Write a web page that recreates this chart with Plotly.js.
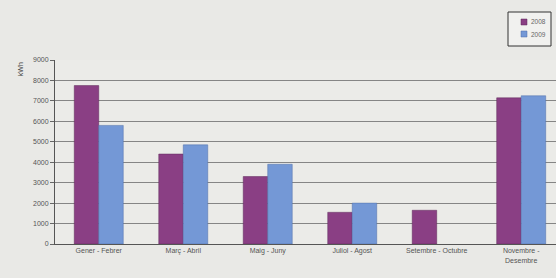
<!DOCTYPE html>
<html>
<head>
<meta charset="utf-8">
<script src="https://cdn.plot.ly/plotly-3.0.1.min.js"></script>
<style>html,body{margin:0;padding:0;background:#e9e9e6;}#chart{width:556px;height:278px;}</style>
</head>
<body>
<div id="chart"></div>
<script>
const categories = ["Gener - Febrer", "Març - Abril", "Maig - Juny", "Juliol - Agost", "Setembre - Octubre", "Novembre -<br>Desembre"];
const seriesNames = ["2008", "2009"];
const series2008 = [7750, 4400, 3300, 1550, 1650, 7150];
const series2009 = [5800, 4850, 3900, 2000, null, 7250];
const yTicks = [0, 1000, 2000, 3000, 4000, 5000, 6000, 7000, 8000, 9000];
const colors = ["#8a3f84", "#7498d6"];
const edgeColors = ["#5e2a5a", "#4f6fa8"];

const traces = [series2008, series2009].map((vals, i) => ({
  type: "bar", name: seriesNames[i], x: categories, y: vals,
  marker: {color: colors[i], line: {color: edgeColors[i], width: 0.5}}
}));

// plot area: 55..556 px wide (501), 60..244 px tall (184)
const px = x => (x - 55) / 501;
const py = y => (244 - y) / 184;

const shapes = [
  {type: "rect", xref: "paper", yref: "paper", x0: px(508), x1: px(551), y0: py(46), y1: py(12),
   line: {color: "#333", width: 1}, fillcolor: "#f1f1ef", layer: "above"}
];
const annotations = [
  {text: "kWh", textangle: -90, xref: "paper", yref: "paper",
   x: -0.07, y: 0.95, xanchor: "center", yanchor: "middle",
   showarrow: false, font: {size: 7, color: "#444"}}
];
seriesNames.forEach((n, i) => {
  const yc = 22 + i * 12;
  shapes.push({type: "rect", xref: "paper", yref: "paper",
    x0: px(521), x1: px(527), y0: py(yc + 3), y1: py(yc - 3),
    line: {color: edgeColors[i], width: 0.5}, fillcolor: colors[i], layer: "above"});
  annotations.push({text: n, xref: "paper", yref: "paper", x: px(529), y: py(yc),
    xanchor: "left", yanchor: "middle", showarrow: false,
    font: {size: 6.5, color: "#666"}});
});

const layout = {
  width: 556, height: 278,
  margin: {l: 55, r: 0, t: 60, b: 34},
  paper_bgcolor: "#e9e9e6",
  plot_bgcolor: "#ebebe8",
  font: {family: "Liberation Sans, Arial, sans-serif", size: 7, color: "#555"},
  barmode: "group",
  bargap: 0.42,
  bargroupgap: 0,
  showlegend: false,
  xaxis: {type: "category", range: [-0.518, 5.412], showgrid: false,
          showline: true, linecolor: "#555", linewidth: 1,
          ticks: "", tickfont: {size: 7, color: "#555"}, fixedrange: true},
  yaxis: {range: [0, 9000], tickvals: yTicks, ticktext: yTicks.map(String),
          showgrid: true, gridcolor: "#858585", gridwidth: 1,
          showline: true, linecolor: "#555", linewidth: 1,
          ticks: "outside", ticklen: 4, tickcolor: "#666",
          tickfont: {size: 7, color: "#555"}, zeroline: false, fixedrange: true},
  shapes: shapes,
  annotations: annotations
};

Plotly.newPlot("chart", traces, layout, {displayModeBar: false, staticPlot: true});
</script>
</body>
</html>
